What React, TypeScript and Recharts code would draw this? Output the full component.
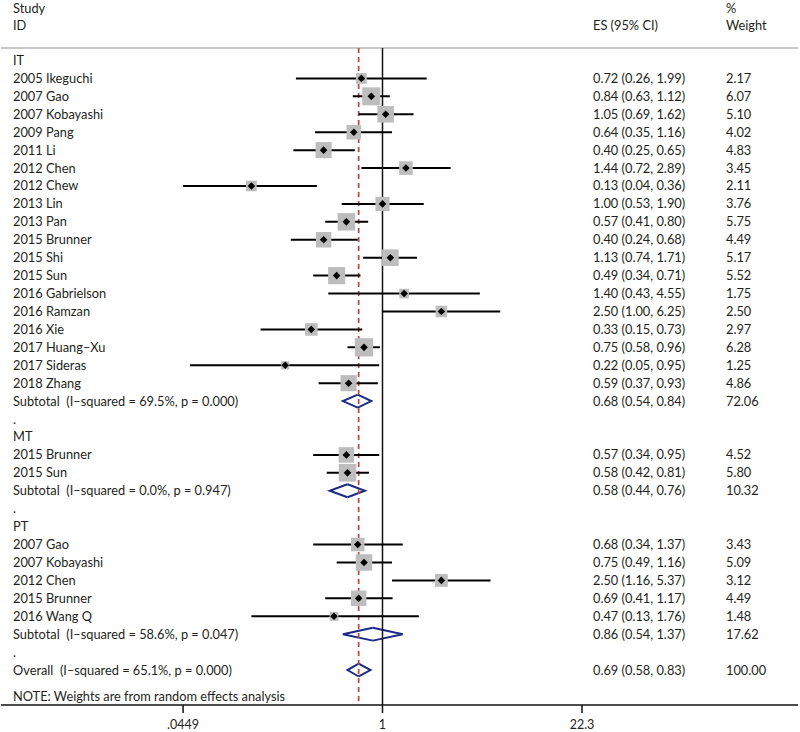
import React from "react";
import {
  ComposedChart,
  ReferenceArea,
  ReferenceLine,
  Scatter,
  XAxis,
  YAxis,
} from "recharts";

// IT studies
const itStudies = [
  "2005 Ikeguchi",
  "2007 Gao",
  "2007 Kobayashi",
  "2009 Pang",
  "2011 Li",
  "2012 Chen",
  "2012 Chew",
  "2013 Lin",
  "2013 Pan",
  "2015 Brunner",
  "2015 Shi",
  "2015 Sun",
  "2016 Gabrielson",
  "2016 Ramzan",
  "2016 Xie",
  "2017 Huang–Xu",
  "2017 Sideras",
  "2018 Zhang",
];
const itEs = [0.72, 0.84, 1.05, 0.64, 0.4, 1.44, 0.13, 1.0, 0.57, 0.4, 1.13, 0.49, 1.4, 2.5, 0.33, 0.75, 0.22, 0.59];
const itLow = [0.26, 0.63, 0.69, 0.35, 0.25, 0.72, 0.04, 0.53, 0.41, 0.24, 0.74, 0.34, 0.43, 1.0, 0.15, 0.58, 0.05, 0.37];
const itHigh = [1.99, 1.12, 1.62, 1.16, 0.65, 2.89, 0.36, 1.9, 0.8, 0.68, 1.71, 0.71, 4.55, 6.25, 0.73, 0.96, 0.95, 0.93];
const itWeight = [2.17, 6.07, 5.1, 4.02, 4.83, 3.45, 2.11, 3.76, 5.75, 4.49, 5.17, 5.52, 1.75, 2.5, 2.97, 6.28, 1.25, 4.86];

// MT studies
const mtStudies = ["2015 Brunner", "2015 Sun"];
const mtEs = [0.57, 0.58];
const mtLow = [0.34, 0.42];
const mtHigh = [0.95, 0.81];
const mtWeight = [4.52, 5.8];

// PT studies
const ptStudies = ["2007 Gao", "2007 Kobayashi", "2012 Chen", "2015 Brunner", "2016 Wang Q"];
const ptEs = [0.68, 0.75, 2.5, 0.69, 0.47];
const ptLow = [0.34, 0.49, 1.16, 0.41, 0.13];
const ptHigh = [1.37, 1.16, 5.37, 1.17, 1.76];
const ptWeight = [3.43, 5.09, 3.12, 4.49, 1.48];

// pooled estimates
const groupNames = ["IT", "MT", "PT"];
const subtotalLabels = [
  "Subtotal  (I–squared = 69.5%, p = 0.000)",
  "Subtotal  (I–squared = 0.0%, p = 0.947)",
  "Subtotal  (I–squared = 58.6%, p = 0.047)",
];
const subtotalEs = [0.68, 0.58, 0.86];
const subtotalLow = [0.54, 0.44, 0.54];
const subtotalHigh = [0.84, 0.76, 1.37];
const subtotalWeight = [72.06, 10.32, 17.62];

const overallLabel = "Overall  (I–squared = 65.1%, p = 0.000)";
const overallEs = 0.69;
const overallLow = 0.58;
const overallHigh = 0.83;
const overallWeight = 100.0;

const axisTicks = [0.0449, 1, 22.3];
const axisTickLabels = [".0449", "1", "22.3"];
const noteText = "NOTE: Weights are from random effects analysis";

type Row = {
  row: number;
  label: string;
  kind: "group" | "study" | "pooled" | "gap" | "header" | "note";
  es?: number;
  low?: number;
  high?: number;
  weight?: number;
  esText?: string;
  wText?: string;
};

const groups = [
  { studies: itStudies, es: itEs, low: itLow, high: itHigh, weight: itWeight },
  { studies: mtStudies, es: mtEs, low: mtLow, high: mtHigh, weight: mtWeight },
  { studies: ptStudies, es: ptEs, low: ptLow, high: ptHigh, weight: ptWeight },
];

const fmt = (es: number, lo: number, hi: number) =>
  `${es.toFixed(2)} (${lo.toFixed(2)}, ${hi.toFixed(2)})`;

const rows: Row[] = [];
let r = 0;
groups.forEach((g, gi) => {
  rows.push({ row: r++, label: groupNames[gi], kind: "group" });
  g.studies.forEach((name, i) => {
    rows.push({
      row: r++,
      label: name,
      kind: "study",
      es: g.es[i],
      low: g.low[i],
      high: g.high[i],
      weight: g.weight[i],
    });
  });
  rows.push({
    row: r++,
    label: subtotalLabels[gi],
    kind: "pooled",
    es: subtotalEs[gi],
    low: subtotalLow[gi],
    high: subtotalHigh[gi],
    weight: subtotalWeight[gi],
  });
  rows.push({ row: r++, label: ".", kind: "gap" });
});
rows.push({
  row: r++,
  label: overallLabel,
  kind: "pooled",
  es: overallEs,
  low: overallLow,
  high: overallHigh,
  weight: overallWeight,
});

// layout rows (in row units)
const STUDY_ROW = -2.91;
const ID_ROW = -1.96;
const HEADER_LINE = -0.7;
const NOTE_ROW = 35.5;
const Y_MIN = -3.374;
const Y_MAX = 35.95;
const X_MIN = 0.00264;
const X_MAX = 643;
const AXIS_MIN = axisTicks[0];

rows.push({ row: STUDY_ROW, label: "Study", kind: "header", wText: "%" });
rows.push({ row: ID_ROW, label: "ID", kind: "header", esText: "ES (95% CI)", wText: "Weight" });
rows.push({ row: NOTE_ROW, label: noteText, kind: "note" });

rows.forEach((d) => {
  if (d.kind === "study" || d.kind === "pooled") {
    d.esText = fmt(d.es!, d.low!, d.high!);
    d.wText = d.weight!.toFixed(2);
  }
});

const studyRows = rows.filter((d) => d.kind === "study");
const pooledRows = rows.filter((d) => d.kind === "pooled");
const rowByValue = new Map(rows.map((d) => [d.row, d]));

const FONT = "Lato, 'Liberation Sans', sans-serif";
const TEXT = "#231f20";
const NAVY = "#1d2a84";

const RowText = (props: any) => {
  const { y, payload } = props;
  const d = rowByValue.get(payload.value);
  if (!d) return null;
  return (
    <g fontFamily={FONT} fontSize={12.8} fill={TEXT} style={{ whiteSpace: "pre" }}>
      <text x={13} y={y} dy="0.35em" xmlSpace="preserve" style={{ whiteSpace: "pre" }}>
        {d.label}
      </text>
      {d.esText && (
        <text x={593} y={y} dy="0.35em">
          {d.esText}
        </text>
      )}
      {d.wText && (
        <text x={726} y={y} dy="0.35em">
          {d.wText}
        </text>
      )}
    </g>
  );
};

const WeightBox = (props: any) => {
  const { cx, cy, payload } = props;
  const side = 7.3 * Math.sqrt(payload.weight);
  return <rect x={cx - side / 2} y={cy - side / 2} width={side} height={side} fill="#bdbdbd" />;
};

const PointMark = (props: any) => {
  const { cx, cy } = props;
  const s = 3.8;
  return (
    <polygon
      points={`${cx},${cy - s} ${cx + s},${cy} ${cx},${cy + s} ${cx - s},${cy}`}
      fill="#000"
    />
  );
};

const LeftHalf = (props: any) => {
  const { x, y, width, height } = props;
  return (
    <polyline
      points={`${x + width},${y} ${x},${y + height / 2} ${x + width},${y + height}`}
      fill="none"
      stroke={NAVY}
      strokeWidth={2}
    />
  );
};

const RightHalf = (props: any) => {
  const { x, y, width, height } = props;
  return (
    <polyline
      points={`${x},${y} ${x + width},${y + height / 2} ${x},${y + height}`}
      fill="none"
      stroke={NAVY}
      strokeWidth={2}
    />
  );
};

export default function App() {
  return (
    <div style={{ position: "absolute", left: 0, top: 0, background: "#fff" }}>
      <ComposedChart
        width={800}
        height={732}
        margin={{ top: 0, right: 2, left: 0, bottom: 0 }}
      >
        <XAxis
          type="number"
          dataKey="es"
          scale="log"
          domain={[X_MIN, X_MAX]}
          allowDataOverflow
          ticks={axisTicks}
          interval={0}
          tickFormatter={(v: number) => axisTickLabels[axisTicks.indexOf(v)] ?? ""}
          height={27}
          tickSize={8}
          tickMargin={7}
          axisLine={{ stroke: "#111", strokeWidth: 1.5 }}
          tickLine={{ stroke: "#111", strokeWidth: 1.5 }}
          tick={{ fontSize: 12.5, fontFamily: FONT, fill: TEXT }}
        />
        <YAxis
          type="number"
          dataKey="row"
          reversed
          domain={[Y_MIN, Y_MAX]}
          allowDataOverflow
          ticks={rows.map((d) => d.row)}
          interval={0}
          width={1}
          axisLine={false}
          tickLine={false}
          tick={(p: any) => <RowText {...p} />}
        />
        <ReferenceLine
          y={HEADER_LINE}
          stroke="#c8c8c8"
          strokeWidth={2}
          ifOverflow="extendDomain"
        />
        <ReferenceLine
          segment={[
            { x: 1, y: HEADER_LINE },
            { x: 1, y: Y_MAX },
          ]}
          stroke="#111"
          strokeWidth={1.5}
        />
        <ReferenceLine
          segment={[
            { x: overallEs, y: HEADER_LINE },
            { x: overallEs, y: Y_MAX },
          ]}
          stroke="#b9473f"
          strokeWidth={1.7}
          strokeDasharray="5 4"
        />
        <Scatter data={studyRows} shape={<WeightBox />} isAnimationActive={false} />
        {studyRows.map((d) => (
          <ReferenceLine
            key={`ci-${d.row}`}
            segment={[
              { x: Math.max(d.low!, AXIS_MIN), y: d.row },
              { x: d.high!, y: d.row },
            ]}
            stroke="#000"
            strokeWidth={2}
          />
        ))}
        <Scatter data={studyRows} shape={<PointMark />} isAnimationActive={false} />
        {pooledRows.map((d) => (
          <ReferenceArea
            key={`dl-${d.row}`}
            x1={d.low}
            x2={d.es}
            y1={d.row - 0.36}
            y2={d.row + 0.36}
            shape={<LeftHalf />}
          />
        ))}
        {pooledRows.map((d) => (
          <ReferenceArea
            key={`dr-${d.row}`}
            x1={d.es}
            x2={d.high}
            y1={d.row - 0.36}
            y2={d.row + 0.36}
            shape={<RightHalf />}
          />
        ))}
      </ComposedChart>
    </div>
  );
}
